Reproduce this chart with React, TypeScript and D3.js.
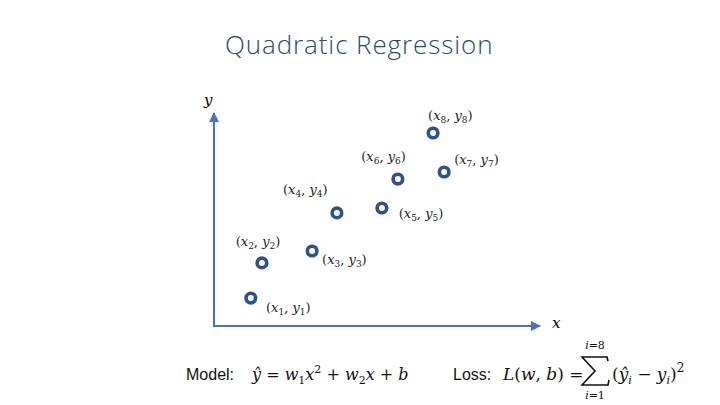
import React from "react";
import * as d3 from "d3";

const pointIds = [1, 2, 3, 4, 5, 6, 7, 8];
const xValues = [11.3, 14.7, 30.1, 37.7, 51.5, 56.4, 70.6, 67.2];
const yValues = [13.1, 29.6, 35.2, 53.1, 55.4, 69.0, 72.3, 90.6];
// label anchor positions (data units) for the (x_i, y_i) annotations
const labelX = [22.8, 13.5, 40.0, 28.0, 63.5, 52.0, 80.5, 72.5];
const labelY = [6.6, 37.5, 29.0, 62.0, 50.5, 77.5, 76.0, 96.5];

const W = 720;
const H = 405;
const blue = "#2F528F";
const axisBlue = "#4A72B8";
const mathFont = "'DejaVu Serif', 'Liberation Serif', serif";
const textFont = "'Liberation Sans', 'Open Sans', sans-serif";

export default function App() {
  const x = d3.scaleLinear().domain([0, 100]).range([214, 540]);
  const y = d3.scaleLinear().domain([0, 100]).range([326, 113]);
  const ms = 13;
  // sigma glyph geometry
  const sx = 582, sy = 357, sw = 26, sh = 28;
  const sigmaPath = `M${sx + sw},${sy + 4} L${sx + sw - 1},${sy} L${sx},${sy} L${sx + 13},${sy + sh / 2} L${sx},${sy + sh} L${sx + sw},${sy + sh} L${sx + sw + 1},${sy + sh - 5}`;
  return (
    <svg width={W} height={H} style={{ display: "block", position: "absolute", left: 0, top: 0 }}>
      <rect width={W} height={H} fill="#fff" />
      <text x={225} y={54} fontFamily="'Open Sans', sans-serif" fontWeight={300} fontSize={26} letterSpacing={0.9} fill="#2B4A6B">
        Quadratic Regression
      </text>
      <defs>
        <marker id="arr" viewBox="0 0 10 10" refX={9} refY={5} markerWidth={5} markerHeight={5} orient="auto">
          <path d="M0,0 L10,5 L0,10 z" fill={axisBlue} />
        </marker>
      </defs>
      <line x1={x(0)} y1={y(0)} x2={x(0)} y2={y(100)} stroke={axisBlue} strokeWidth={2} markerEnd="url(#arr)" />
      <line x1={x(0) - 1} y1={y(0)} x2={x(100)} y2={y(0)} stroke={axisBlue} strokeWidth={2} markerEnd="url(#arr)" />
      <text x={x(0) - 10} y={105} fontFamily={mathFont} fontStyle="italic" fontSize={15}>y</text>
      <text x={x(100) + 12} y={y(0) + 2} fontFamily={mathFont} fontStyle="italic" fontSize={15}>x</text>
      {pointIds.map((id, i) => (
        <circle key={"c" + id} cx={x(xValues[i])} cy={y(yValues[i])} r={4.8} fill="#fff" stroke={blue} strokeWidth={3.6} />
      ))}
      {pointIds.map((id, i) => (
        <text key={"t" + id} x={x(labelX[i])} y={y(labelY[i])} textAnchor="middle" fontFamily={mathFont} fontSize={ms} fill="#222">
          <tspan>(</tspan>
          <tspan fontStyle="italic">x</tspan>
          <tspan fontSize={9} dy={3}>{id}</tspan>
          <tspan dy={-3}>, </tspan>
          <tspan fontStyle="italic">y</tspan>
          <tspan fontSize={9} dy={3}>{id}</tspan>
          <tspan dy={-3}>)</tspan>
        </text>
      ))}
      <text x={186} y={380} fontFamily={textFont} fontSize={16} fill="#111">Model:</text>
      <text x={252} y={380} fontFamily={mathFont} fontSize={16} fill="#111">
        <tspan fontStyle="italic">ŷ</tspan>
        <tspan> = </tspan>
        <tspan fontStyle="italic">w</tspan>
        <tspan fontSize={11} dy={4}>1</tspan>
        <tspan fontStyle="italic" dy={-4}>x</tspan>
        <tspan fontSize={11} dy={-7}>2</tspan>
        <tspan dy={7}> + </tspan>
        <tspan fontStyle="italic">w</tspan>
        <tspan fontSize={11} dy={4}>2</tspan>
        <tspan fontStyle="italic" dy={-4}>x</tspan>
        <tspan> + </tspan>
        <tspan fontStyle="italic">b</tspan>
      </text>
      <text x={453} y={380} fontFamily={textFont} fontSize={16} fill="#111">Loss:</text>
      <text x={503} y={380} fontFamily={mathFont} fontSize={17} fill="#111">
        <tspan fontStyle="italic">L</tspan>
        <tspan>(</tspan>
        <tspan fontStyle="italic">w</tspan>
        <tspan>, </tspan>
        <tspan fontStyle="italic">b</tspan>
        <tspan>) = </tspan>
      </text>
      <path d={sigmaPath} fill="none" stroke="#111" strokeWidth={1.6} strokeLinejoin="miter" />
      <text x={595} y={349} textAnchor="middle" fontFamily={mathFont} fontSize={11} fill="#111">
        <tspan fontStyle="italic">i</tspan><tspan>=8</tspan>
      </text>
      <text x={595} y={399} textAnchor="middle" fontFamily={mathFont} fontSize={11} fill="#111">
        <tspan fontStyle="italic">i</tspan><tspan>=1</tspan>
      </text>
      <text x={612} y={380} fontFamily={mathFont} fontSize={17} fill="#111">
        <tspan>(</tspan>
        <tspan fontStyle="italic">ŷ</tspan>
        <tspan fontSize={11} fontStyle="italic" dy={4}>i</tspan>
        <tspan dy={-4}> − </tspan>
        <tspan fontStyle="italic">y</tspan>
        <tspan fontSize={11} fontStyle="italic" dy={4}>i</tspan>
        <tspan dy={-4}>)</tspan>
        <tspan fontSize={12} dy={-8}>2</tspan>
      </text>
    </svg>
  );
}
